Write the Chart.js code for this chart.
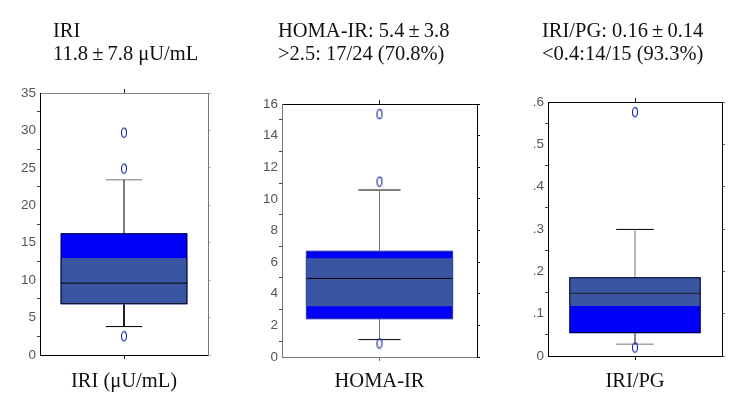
<!DOCTYPE html>
<html>
<head>
<meta charset="utf-8">
<script src="https://cdn.jsdelivr.net/npm/chart.js@4.4.1/dist/chart.umd.min.js"></script>
<style>
  html, body { margin: 0; padding: 0; background: #fff; }
  #wrap { position: relative; width: 744px; height: 411px; overflow: hidden; }
  .panel { position: absolute; top: 0; height: 411px; }
  .ttl { position: absolute; font-family: "Liberation Serif", "Times New Roman", serif; font-size: 20.5px; line-height: 23px; color: #111; white-space: nowrap; }
</style>
</head>
<body>
<div id="wrap">
  <div class="panel" style="left:0px;width:216px"><canvas id="c0" width="216" height="411"></canvas></div>
  <div class="panel" style="left:242px;width:243px"><canvas id="c1" width="243" height="411"></canvas></div>
  <div class="panel" style="left:508px;width:222px"><canvas id="c2" width="222" height="411"></canvas></div>
  <div class="ttl" id="t0" style="left:53px;top:19px"></div>
  <div class="ttl" id="t1" style="left:278px;top:19px"></div>
  <div class="ttl" id="t2" style="left:542px;top:19px"></div>
</div>
<script>
// ---------- data ----------
const xLabels = ['IRI (μU/mL)', 'HOMA-IR', 'IRI/PG'];
const titleLine1 = ['IRI', 'HOMA-IR: 5.4\u2009±\u20093.8', 'IRI/PG: 0.16\u2009±\u20090.14'];
const titleLine2 = ['11.8\u2009±\u20097.8 μU/mL', '>2.5: 17/24 (70.8%)', '<0.4:14/15 (93.3%)'];
const whiskerLow  = [3.8, 1.1, 0.028];
const boxLow      = [6.77, 2.39, 0.054];
const boxHigh     = [16.25, 6.72, 0.186];
const bandLow     = [6.77, 3.21, 0.118];
const bandHigh    = [12.95, 6.25, 0.186];
const median      = [9.6, 4.97, 0.148];
const whiskerHigh = [23.4, 10.56, 0.299];
const outliers    = [[29.7, 24.9, 2.5], [15.36, 11.09, 0.85], [0.576, 0.02]];
const yMax        = [35, 16, 0.6];
const yMajorStep  = [5, 2, 0.1];
const yMinorStep  = [2.5, 1, 0.05];

// ---------- styles ----------
const BRIGHT = '#0000fa';
const DARK = '#3a56a2';
const styles = [
  { left:'#000', bottom:'#000', top:'#888', right:'#777', rightTick:'#bbb',
    wHi:'#000', capHi:'#777', wLo:'#000', capLo:'#000', boxBorder:'#000', med:'#000', top0:87, xH:56 },
  { left:'#777', bottom:'#777', top:'#000', right:'#000', rightTick:'#000',
    wHi:'#777', capHi:'#000', wLo:'#777', capLo:'#000', boxBorder:'#3a4a9a', med:'#000', top0:98, xH:54 },
  { left:'#000', bottom:'#000', top:'#000', right:'#000', rightTick:'#666',
    wHi:'#777', capHi:'#000', wLo:'#777', capLo:'#777', boxBorder:'#000', med:'#222', top0:96, xH:55 }
];
const BOX_FRAC = 0.755;
const CAP_HALF = 0.108;

function makeMarker() {
  const c = document.createElement('canvas');
  c.width = 8; c.height = 12;
  const g = c.getContext('2d');
  g.strokeStyle = '#1424a0';
  g.lineWidth = 1.1;
  g.beginPath();
  g.ellipse(4, 6, 2.5, 4.6, 0, 0, Math.PI * 2);
  g.stroke();
  return c;
}
const marker = makeMarker();

function isMajor(v, step) {
  const r = v / step;
  return Math.abs(r - Math.round(r)) < 1e-6;
}
function fmt(v, i) {
  if (Math.abs(v) < 1e-9) return '0';
  if (i === 2) return v.toFixed(1).replace(/^0\./, '.');
  return String(Math.round(v));
}

function lineDs(points, color, order) {
  return { type: 'line', data: points, xAxisID: 'x2', yAxisID: 'y', borderColor: color,
           borderWidth: 1, pointRadius: 0, fill: false, order: order, tension: 0 };
}

for (let i = 0; i < 3; i++) {
  document.getElementById('t' + i).innerHTML =
    titleLine1[i].replace(/</g,'&lt;').replace(/>/g,'&gt;') + '<br>' +
    titleLine2[i].replace(/</g,'&lt;').replace(/>/g,'&gt;');
  const s = styles[i];
  const hb = BOX_FRAC / 2;
  const datasets = [
    { type: 'bar', data: [[boxLow[i], boxHigh[i]]], xAxisID: 'x', yAxisID: 'y',
      backgroundColor: 'rgba(0,0,0,0)', borderColor: s.boxBorder, borderWidth: 1, borderSkipped: false,
      barPercentage: BOX_FRAC, categoryPercentage: 1, grouped: false, order: 1 },
    lineDs([{x: 0.5 - hb, y: median[i]}, {x: 0.5 + hb, y: median[i]}], s.med, 2),
    { type: 'bar', data: [[bandLow[i], bandHigh[i]]], xAxisID: 'x', yAxisID: 'y',
      backgroundColor: DARK, borderWidth: 0, barPercentage: BOX_FRAC, categoryPercentage: 1, grouped: false, order: 3 },
    { type: 'bar', data: [[boxLow[i], boxHigh[i]]], xAxisID: 'x', yAxisID: 'y',
      backgroundColor: BRIGHT, borderWidth: 0, barPercentage: BOX_FRAC, categoryPercentage: 1, grouped: false, order: 4 },
    lineDs([{x: 0.5, y: boxHigh[i]}, {x: 0.5, y: whiskerHigh[i]}], s.wHi, 5),
    lineDs([{x: 0.5 - CAP_HALF, y: whiskerHigh[i]}, {x: 0.5 + CAP_HALF, y: whiskerHigh[i]}], s.capHi, 5),
    lineDs([{x: 0.5, y: boxLow[i]}, {x: 0.5, y: whiskerLow[i]}], s.wLo, 5),
    lineDs([{x: 0.5 - CAP_HALF, y: whiskerLow[i]}, {x: 0.5 + CAP_HALF, y: whiskerLow[i]}], s.capLo, 5),
    { type: 'scatter', data: outliers[i].map(v => ({x: 0.5, y: v})), xAxisID: 'x2', yAxisID: 'y',
      pointStyle: marker, pointRadius: 5, order: 0 }
  ];
  new Chart(document.getElementById('c' + i), {
    type: 'bar',
    data: { labels: [''], datasets },
    options: {
      responsive: false, animation: false,
      layout: { padding: { top: s.top0, left: 0, right: 0, bottom: 0 } },
      plugins: { legend: { display: false }, tooltip: { enabled: false }, title: { display: false } },
      scales: {
        x: {
          type: 'category', position: 'bottom', offset: true,
          grid: { offset: false, drawOnChartArea: false, drawTicks: true, tickLength: 4, tickColor: s.bottom },
          border: { color: s.bottom, width: 1 },
          ticks: { display: false },
          title: { display: true, text: xLabels[i], color: '#111',
                   font: { family: '"Liberation Serif", "Times New Roman", serif', size: 20.5 },
                   padding: { top: 0, bottom: 17 } },
          afterFit: (sc) => { sc.height = s.xH; }
        },
        x2: {
          type: 'linear', position: 'top', min: 0, max: 1, offset: false,
          ticks: { display: false, stepSize: 0.5 },
          grid: { offset: false, drawOnChartArea: false, drawTicks: true, tickLength: 4,
                  tickColor: (ctx) => (ctx.tick && Math.abs(ctx.tick.value - 0.5) < 1e-6) ? '#222' : 'rgba(0,0,0,0)' },
          border: { color: s.top, width: 1 },
          afterFit: (sc) => { sc.height = 6; }
        },
        y: {
          type: 'linear', position: 'left', min: 0, max: yMax[i],
          ticks: { stepSize: yMinorStep[i], autoSkip: false, padding: 1, color: '#555',
                   font: { family: '"Liberation Sans", Arial, sans-serif', size: 13.5 },
                   callback: (v) => isMajor(v, yMajorStep[i]) ? fmt(v, i) : '' },
          grid: { drawOnChartArea: false, drawTicks: true, tickLength: 3,
                  tickColor: (ctx) => (ctx.tick && isMajor(ctx.tick.value, yMajorStep[i])) ? 'rgba(0,0,0,0)' : '#444' },
          border: { color: s.left, width: 1 },
          afterFit: (sc) => { sc.width = 40; }
        },
        y2: {
          type: 'linear', position: 'right', min: 0, max: yMax[i],
          ticks: { display: false, stepSize: yMinorStep[i], autoSkip: false },
          grid: { drawOnChartArea: false, drawTicks: true, tickLength: 3,
                  tickColor: (ctx) => (ctx.tick && isMajor(ctx.tick.value, yMajorStep[i])) ? s.rightTick : 'rgba(0,0,0,0)' },
          border: { color: s.right, width: 1 },
          afterFit: (sc) => { sc.width = 8; }
        }
      }
    }
  });
}
</script>
</body>
</html>
